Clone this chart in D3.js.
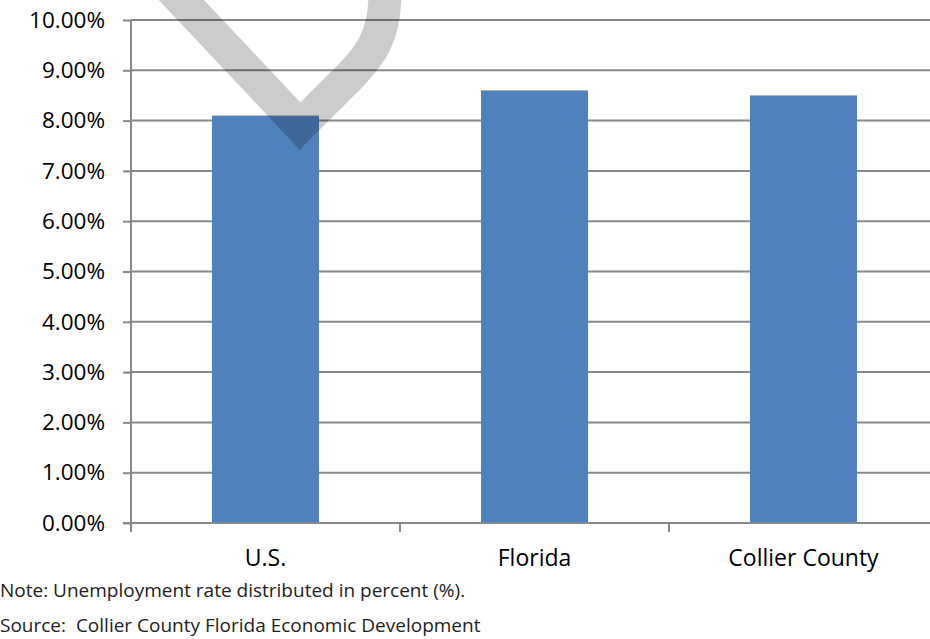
<!DOCTYPE html>
<html>
<head>
<meta charset="utf-8">
<script src="https://cdn.jsdelivr.net/npm/d3@7"></script>
<style>
  body { margin: 0; background: #fff; }
  svg { display: block; font-family: "Open Sans", sans-serif; }
  .note { font-size: 19px; fill: #222; }
</style>
</head>
<body>
<main></main>
<script>
var categories = ["U.S.", "Florida", "Collier County"];
var rates = [8.1, 8.6, 8.5];
var yTicks = [0, 1, 2, 3, 4, 5, 6, 7, 8, 9, 10];

var width = 930, height = 639;
var plotLeft = 131, plotRight = 938, plotTop = 20, plotBottom = 523;

var svg = d3.select("main")
  .append("svg")
    .attr("width", width)
    .attr("height", height);

var x = d3.scaleBand()
  .domain(categories)
  .range([plotLeft, plotRight])
  .paddingInner(0)
  .paddingOuter(0);

var y = d3.scaleLinear()
  .domain([0, 10])
  .range([plotBottom, plotTop]);

// gridlines
svg.append("g")
  .selectAll("line")
  .data(yTicks.filter(function(d) { return d > 0; }))
  .enter().append("line")
    .attr("x1", plotLeft)
    .attr("x2", plotRight)
    .attr("y1", function(d) { return y(d); })
    .attr("y2", function(d) { return y(d); })
    .attr("stroke", "#888")
    .attr("stroke-width", 2);

// bars
var barW = 107;
svg.append("g")
  .selectAll("rect")
  .data(rates)
  .enter().append("rect")
    .attr("x", function(d, i) { return x(categories[i]) + x.bandwidth() / 2 - barW / 2; })
    .attr("y", function(d) { return y(d); })
    .attr("width", barW)
    .attr("height", function(d) { return y(0) - y(d); })
    .attr("fill", "#4f81bd");

// y axis
var yAxis = svg.append("g")
  .attr("transform", "translate(" + plotLeft + ",0)")
  .call(d3.axisLeft(y)
    .tickValues(yTicks)
    .tickSize(8)
    .tickPadding(18)
    .tickFormat(function(d) { return d3.format(".2f")(d) + "%"; }));
yAxis.select(".domain").attr("stroke", "#888").attr("stroke-width", 2)
  .attr("d", "M0," + plotTop + "V" + plotBottom);
yAxis.selectAll(".tick line").attr("stroke", "#888").attr("stroke-width", 2);
yAxis.selectAll(".tick text")
  .attr("fill", "#000")
  .style("font-size", "22.5px")
  .style("font-family", "'Open Sans', sans-serif");

// x axis
var xAxis = svg.append("g")
  .attr("transform", "translate(0," + plotBottom + ")")
  .call(d3.axisBottom(x).tickSize(0).tickPadding(27));
xAxis.select(".domain").attr("stroke", "#888").attr("stroke-width", 2)
  .attr("d", "M" + (plotLeft - 8) + ",0H" + plotRight);
xAxis.selectAll(".tick text")
  .attr("fill", "#000")
  .style("font-size", "23px")
  .style("font-family", "'Open Sans', sans-serif");
xAxis.selectAll(".sep")
  .data(d3.range(categories.length + 1))
  .enter().append("line")
    .attr("x1", function(i) { return plotLeft + i * x.step(); })
    .attr("x2", function(i) { return plotLeft + i * x.step(); })
    .attr("y1", 0)
    .attr("y2", 9)
    .attr("stroke", "#888")
    .attr("stroke-width", 2);

// watermark check
svg.append("path")
  .attr("d", "M170,-12 L300,126 L338,88 C372,56 386,36 385,-12")
  .attr("fill", "none")
  .attr("stroke", "#000")
  .attr("stroke-opacity", 0.2)
  .attr("stroke-width", 33)
  .attr("stroke-linejoin", "miter");

svg.append("text").attr("class", "note")
  .attr("x", 0).attr("y", 597)
  .text("Note: Unemployment rate distributed in percent (%).");
svg.append("text").attr("class", "note")
  .attr("x", 0).attr("y", 632)
  .text("Source:  Collier County Florida Economic Development")
  .style("white-space", "pre");
</script>
</body>
</html>
